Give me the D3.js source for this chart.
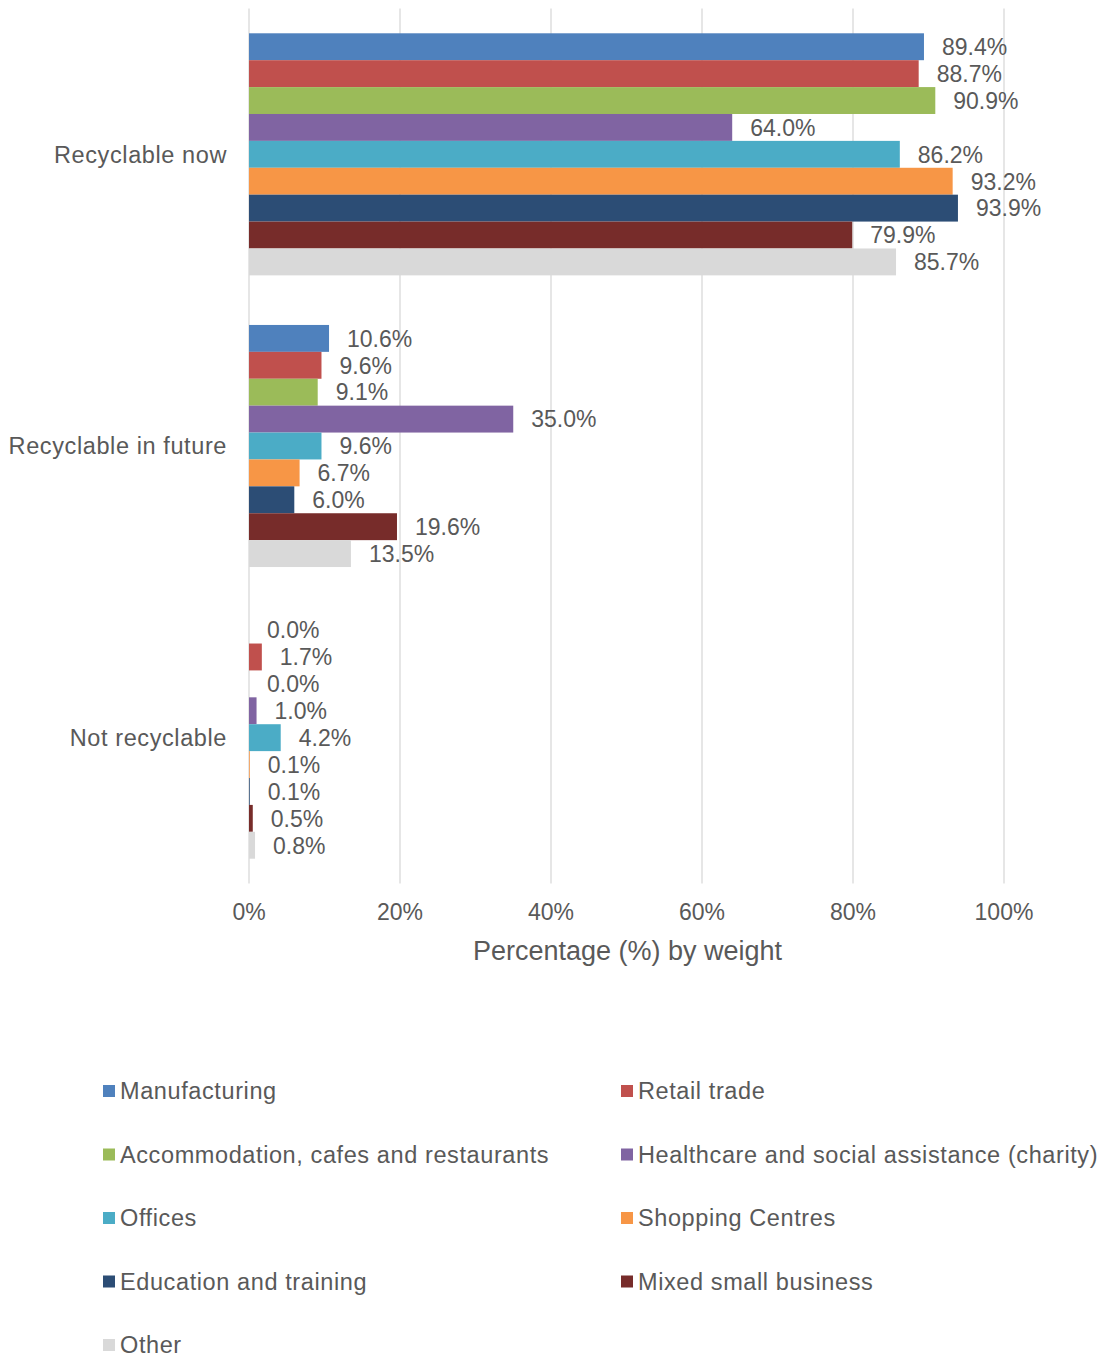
<!DOCTYPE html>
<html>
<head>
<meta charset="utf-8">
<script src="https://cdn.jsdelivr.net/npm/d3@7"></script>
<style>
  html, body { margin: 0; padding: 0; background: #fff; }
  svg text { font-family: "Liberation Sans", Arial, sans-serif; fill: #595959; }
</style>
</head>
<body>
<svg id="chart" width="1104" height="1358"></svg>
<script>
// Recyclability categories (one group of bars each)
const categories = ["Recyclable now", "Recyclable in future", "Not recyclable"];

// Business sectors (one bar per sector in each group)
const sectors = [
  "Manufacturing",
  "Retail trade",
  "Accommodation, cafes and restaurants",
  "Healthcare and social assistance (charity)",
  "Offices",
  "Shopping Centres",
  "Education and training",
  "Mixed small business",
  "Other"
];

// Percentage by weight for each sector, ordered as in `categories`
const manufacturing = [89.4, 10.6, 0.0];
const retailTrade   = [88.7, 9.6, 1.7];
const accommodation = [90.9, 9.1, 0.0];
const healthcare    = [64.0, 35.0, 1.0];
const offices       = [86.2, 9.6, 4.2];
const shopping      = [93.2, 6.7, 0.1];
const education     = [93.9, 6.0, 0.1];
const mixedSmall    = [79.9, 19.6, 0.5];
const other         = [85.7, 13.5, 0.8];

const seriesValues = [manufacturing, retailTrade, accommodation, healthcare,
                      offices, shopping, education, mixedSmall, other];

const colors = ["#4F81BD", "#C0504D", "#9BBB59", "#8064A2", "#4BACC6",
                "#F79646", "#2C4D75", "#772C2A", "#D9D9D9"];

const xTicks = [0, 20, 40, 60, 80, 100];
const xTitle = "Percentage (%) by weight";

const svg = d3.select("#chart");

const plotLeft = 249, plotRight = 1004, plotTop = 8.5, plotBottom = 883.5;

const x = d3.scaleLinear().domain([0, 100]).range([plotLeft, plotRight]);
const y0 = d3.scaleBand().domain(categories).range([plotTop, plotBottom])
  .paddingInner(0.17).paddingOuter(0.085);
const y1 = d3.scaleBand().domain(sectors).range([0, y0.bandwidth()]).padding(0);
const color = d3.scaleOrdinal().domain(sectors).range(colors);

// Vertical gridlines
svg.append("g").selectAll("line").data(xTicks).join("line")
  .attr("x1", d => x(d)).attr("x2", d => x(d))
  .attr("y1", plotTop).attr("y2", plotBottom)
  .attr("stroke", "#D9D9D9").attr("stroke-width", 1.3);

// Tick labels
svg.append("g").selectAll("text").data(xTicks).join("text")
  .attr("x", d => x(d)).attr("y", 920)
  .attr("text-anchor", "middle")
  .style("font-size", "23px")
  .text(d => d + "%");

// Axis title
svg.append("text")
  .attr("x", (plotLeft + plotRight) / 2 + 1).attr("y", 960)
  .attr("text-anchor", "middle")
  .style("font-size", "27px")
  .text(xTitle);

// Category labels
svg.append("g").selectAll("text").data(categories).join("text")
  .attr("x", 227)
  .attr("y", d => y0(d) + y0.bandwidth() / 2)
  .attr("dy", "0.35em")
  .attr("text-anchor", "end")
  .style("font-size", "23.5px")
  .style("letter-spacing", "0.6px")
  .text(d => d);

// Flatten data into one record per bar
const rows = [];
categories.forEach((c, ci) => {
  sectors.forEach((s, si) => {
    rows.push({ category: c, sector: s, value: seriesValues[si][ci] });
  });
});

const groups = svg.append("g").selectAll("g").data(categories).join("g")
  .attr("transform", d => `translate(0,${y0(d)})`);

groups.selectAll("rect")
  .data(c => rows.filter(r => r.category === c))
  .join("rect")
  .attr("x", x(0))
  .attr("y", d => y1(d.sector))
  .attr("width", d => x(d.value) - x(0))
  .attr("height", y1.bandwidth())
  .attr("fill", d => color(d.sector));

groups.selectAll("text.value")
  .data(c => rows.filter(r => r.category === c))
  .join("text")
  .attr("class", "value")
  .attr("x", d => x(d.value) + 18)
  .attr("y", d => y1(d.sector) + y1.bandwidth() / 2)
  .attr("dy", "0.36em")
  .style("font-size", "23px")
  .text(d => d.value.toFixed(1) + "%");

// Legend: two columns
const legendCols = [103, 621];
const legendY0 = 1091, legendStep = 63.5;
const legend = svg.append("g").selectAll("g").data(sectors).join("g")
  .attr("transform", (d, i) =>
    `translate(${legendCols[i % 2]},${legendY0 + Math.floor(i / 2) * legendStep})`);

legend.append("rect")
  .attr("x", 0).attr("y", -6)
  .attr("width", 12).attr("height", 12)
  .attr("fill", d => color(d));

legend.append("text")
  .attr("x", 17).attr("y", 0)
  .attr("dy", "0.35em")
  .style("font-size", "23.5px")
  .style("letter-spacing", "0.6px")
  .text(d => d);
</script>
</body>
</html>
